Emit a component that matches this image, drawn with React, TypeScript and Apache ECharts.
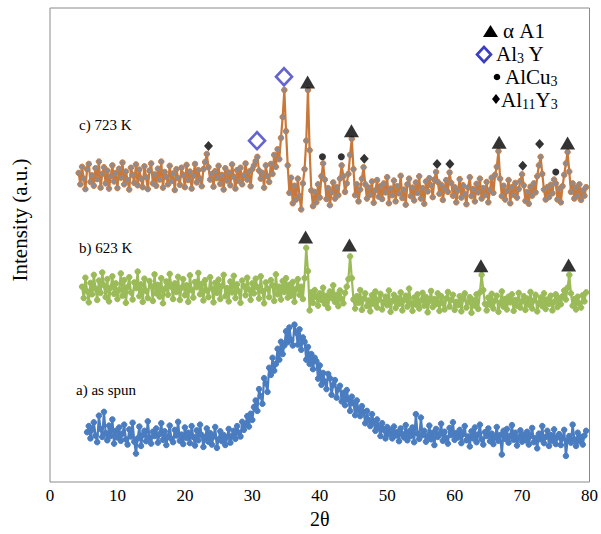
import React, { useEffect, useRef } from 'react';
import * as echarts from 'echarts';

// sampling step of the scans (2θ, degrees)
const STEP = 0.25;

// a) as spun — starts at 2θ = 5.5
const asSpunStart = 5.5;
const asSpun = [
  105, 118, 92, 110, 126, 98, 84, 140, 112, 95, 148, 103, 88, 119, 97, 132, 81, 108, 94, 115,
  87, 102, 121, 90, 79, 111, 96, 125, 85, 60, 92, 117, 76, 99, 108, 86, 128, 94, 81, 106,
  97, 113, 83, 101, 124, 89, 107, 78, 96, 119, 91, 84, 110, 98, 127, 87, 100, 80, 115, 93,
  104, 82, 118, 95, 77, 109, 88, 121, 99, 74, 92, 113, 85, 103, 79, 96, 116, 72, 90, 107,
  86, 99, 78, 94, 112, 83, 97, 108, 91, 118, 104, 96, 127, 110, 122, 139, 117, 144, 131, 158,
  172, 150, 196, 181, 165, 219, 208, 190, 241, 226, 262, 235, 249, 281, 258, 296, 270, 288, 318, 295,
  326, 300, 288, 332, 315, 290, 322, 279, 305, 296, 258, 285, 249, 270, 238, 262, 255, 218, 246, 205,
  230, 212, 196, 228, 219, 184, 205, 215, 178, 196, 203, 170, 188, 162, 194, 174, 150, 180, 166, 141,
  172, 151, 139, 160, 148, 124, 150, 131, 118, 143, 126, 108, 132, 115, 97, 124, 110, 92, 116, 101,
  110, 92, 117, 98, 105, 86, 113, 101, 94, 120, 88, 107, 97, 115, 84, 143, 102, 91, 136, 99,
  108, 85, 97, 119, 90, 104, 78, 112, 95, 101, 123, 87, 106, 93, 81, 114, 99, 126, 89, 103,
  94, 110, 82, 101, 118, 88, 96, 75, 107, 92, 115, 84, 100, 121, 90, 79, 105, 97, 113, 86,
  102, 80, 95, 116, 87, 99, 58, 108, 91, 112, 83, 97, 120, 89, 104, 77, 94, 109, 85, 100,
  88, 106, 79, 97, 114, 84, 93, 71, 102, 90, 118, 82, 95, 108, 76, 99, 87, 111, 80, 94,
  101, 78, 92, 110, 55, 88, 97, 83, 121, 90, 76, 104, 86, 95, 79, 98, 108,
];

// b) 623 K — starts at 2θ = 4.75
const k623Start = 4.75;
const k623 = [
  412, 388, 431, 402, 379, 420, 396, 437, 408, 384, 425, 399, 442, 415, 390, 428, 381, 410, 434, 397,
  419, 386, 405, 440, 393, 426, 378, 411, 432, 400, 385, 421, 409, 444, 392, 417, 380, 429, 403, 388,
  424, 413, 382, 438, 398, 416, 391, 430, 377, 407, 423, 395, 439, 412, 386, 419, 401, 433, 384, 410,
  428, 394, 415, 380, 436, 405, 389, 422, 411, 441, 396, 418, 383, 426, 404, 390, 432, 408, 379, 420,
  399, 427, 386, 414, 437, 392, 409, 381, 423, 400, 435, 388, 417, 402, 378, 425, 413, 394, 431, 406,
  384, 419, 398, 429, 411, 387, 434, 403, 377, 421, 408, 390, 426, 415, 382, 438, 396, 412, 385, 424,
  401, 430, 389, 416, 393, 422, 380, 407, 428, 395, 412, 386, 430, 494, 445, 362, 400, 378, 405, 390,
  372, 398, 384, 410, 376, 393, 367, 402, 388, 415, 380, 395, 371, 404, 386, 377, 399, 412, 428, 476,
  430, 385, 366, 392, 378, 405, 363, 387, 398, 371, 383, 360, 394, 376, 402, 368, 385, 397, 364, 380,
  391, 373, 404, 359, 382, 395, 367, 388, 376, 400, 362, 384, 393, 370, 408, 378, 361, 389, 374, 396,
  366, 383, 399, 372, 390, 358, 381, 403, 369, 386, 375, 398, 361, 392, 377, 364, 387, 401, 370, 384,
  395, 363, 380, 373, 392, 360, 386, 398, 368, 379, 390, 357, 384, 372, 396, 365, 400, 437, 405, 376,
  362, 389, 374, 397, 366, 383, 393, 359, 378, 402, 370, 386, 364, 391, 379, 396, 361, 384, 372, 399,
  368, 381, 392, 363, 387, 374, 401, 366, 383, 395, 360, 378, 389, 371, 398, 365, 385, 376, 393, 362,
  380, 396, 369, 388, 375, 392, 404, 385, 410, 437, 398, 372, 386, 364, 391, 377, 368, 394, 381, 400,
];

// c) 723 K — starts at 2θ = 4.25
const k723Start = 4.25;
const k723 = [
  652, 628, 665, 640, 618, 660, 671, 633, 647, 625, 662, 639, 676, 621, 650, 664, 630, 657, 619, 645,
  668, 634, 652, 620, 661, 642, 674, 628, 655, 637, 617, 663, 648, 631, 670, 626, 659, 640, 622, 666,
  643, 618, 657, 672, 630, 649, 625, 661, 638, 676, 621, 654, 644, 628, 667, 635, 651, 616, 660, 641,
  627, 663, 648, 622, 669, 637, 655, 619, 646, 671, 632, 658, 640, 624, 660, 675, 692, 664, 638, 650,
  623, 656, 641, 667, 629, 648, 617, 662, 636, 653, 626, 670, 644, 619, 658, 635, 663, 628, 647, 672,
  638, 655, 624, 660, 668, 677, 686, 657, 640, 652, 621, 668, 645, 633, 671, 650, 690, 665, 702, 681,
  726, 770, 827, 740, 668, 610, 642, 588, 625, 596, 640, 603, 575, 630, 660, 720, 827, 700, 615, 582,
  612, 590, 628, 600, 645, 672, 638, 597, 620, 584, 611, 632, 598, 622, 605, 640, 668, 645, 612, 630,
  650, 690, 724, 660, 605, 628, 592, 617, 640, 664, 628, 598, 621, 606, 634, 589, 615, 637, 602, 624,
  597, 630, 611, 643, 588, 619, 605, 636, 592, 624, 609, 646, 599, 617, 585, 628, 640, 603, 621, 594,
  632, 610, 645, 598, 620, 587, 634, 613, 641, 626, 601, 638, 654, 633, 608, 627, 595, 619, 637, 612,
  653, 631, 604, 622, 590, 615, 639, 600, 626, 608, 586, 621, 643, 603, 618, 592, 629, 611, 640, 598,
  620, 605, 633, 590, 616, 642, 610, 648, 665, 698, 640, 603, 625, 596, 614, 637, 588, 622, 606, 631,
  600, 618, 635, 649, 626, 593, 612, 587, 623, 604, 630, 611, 645, 668, 686, 650, 617, 596, 622, 601,
  627, 609, 638, 630, 596, 619, 590, 624, 648, 672, 696, 655, 612, 630, 598, 621, 603, 628, 595, 615,
  604, 622,
];

// phase markers [2θ, intensity]
const alphaAl = [[38.2, 844], [44.7, 741], [66.6, 717], [76.75, 715], [37.9, 517], [44.4, 500], [63.9, 456], [76.9, 458]];
const al3Y = [[34.7, 855], [30.7, 720]];
const alCu3 = [[40.4, 686], [43.2, 686], [75.0, 654]];
const al11Y3 = [[23.5, 709], [46.6, 682], [57.4, 671], [59.3, 671], [70.1, 667], [72.6, 713]];

const xTicks = [0, 10, 20, 30, 40, 50, 60, 70, 80];
const sampleLabels = ['c) 723 K', 'b) 623 K', 'a) as spun'];
const legendNames = ['α A1', 'Al3 Y', 'AlCu3', 'Al11Y3'];

const serif = "'Liberation Serif', 'Times New Roman', serif";

export default function App() {
  const ref = useRef<HTMLDivElement>(null);
  useEffect(() => {
    const chart = echarts.init(ref.current!, null, { renderer: 'svg' });
    const mk = (start: number, arr: number[]) => arr.map((v, i) => [start + i * STEP, v]);
    const scan = (name: string, data: number[][], line: string, fill: string, border: string) => ({
      type: 'line',
      name,
      data,
      symbol: 'circle',
      symbolSize: 5.5,
      showSymbol: true,
      showAllSymbol: true,
      silent: true,
      lineStyle: { color: line, width: 2.2 },
      itemStyle: { color: fill, borderColor: border, borderWidth: 1 },
      z: 2,
    });
    const marks = (name: string, data: number[][], symbol: string, size: any, style: any) => ({
      type: 'scatter',
      name,
      data,
      symbol,
      symbolSize: size,
      itemStyle: style,
      silent: true,
      z: 5,
    });
    const rich = {
      n: { fontSize: 21, fontFamily: serif, fill: '#000', lineHeight: 22 },
      s: { fontSize: 14, fontFamily: serif, fill: '#000', lineHeight: 12, verticalAlign: 'bottom' },
    };
    const option: any = {
      animation: false,
      backgroundColor: '#fff',
      grid: { left: 50, right: 9, top: 8, bottom: 52, show: true, borderColor: '#8a8a8a', borderWidth: 1, containLabel: false },
      xAxis: {
        type: 'value',
        min: xTicks[0],
        max: xTicks[xTicks.length - 1],
        interval: 10,
        name: '2θ',
        nameLocation: 'middle',
        nameGap: 27,
        nameTextStyle: { fontFamily: serif, fontSize: 20, color: '#000' },
        axisLine: { show: false },
        axisTick: { show: false },
        splitLine: { show: false },
        axisLabel: { fontFamily: serif, fontSize: 17, color: '#000', margin: 5 },
      },
      yAxis: { type: 'value', min: 0, max: 1000, show: false },
      series: [
        scan('a) as spun', mk(asSpunStart, asSpun), '#4a7cc0', '#4a7cc0', '#4a7cc0'),
        scan('b) 623 K', mk(k623Start, k623), '#9bbb59', '#9bbb59', '#9bbb59'),
        scan('c) 723 K', mk(k723Start, k723), '#c8783a', '#8f8a8e', '#c97d3f'),
        marks(legendNames[0], alphaAl, 'triangle', [15, 13], { color: '#000' }),
        marks(legendNames[1], al3Y, 'diamond', [16, 17], { color: 'rgba(255,255,255,0)', borderColor: '#3d3dc2', borderWidth: 2.6 }),
        marks(legendNames[2], alCu3, 'circle', 7, { color: '#000' }),
        marks(legendNames[3], al11Y3, 'diamond', [9, 10], { color: '#000' }),
      ],
      graphic: [
        { type: 'text', x: 20, y: 220, rotation: Math.PI / 2, style: { text: 'Intensity (a.u.)', fontFamily: serif, fontSize: 21, fill: '#000', align: 'center', verticalAlign: 'middle' } },
        { type: 'text', x: 79, y: 125, style: { text: sampleLabels[0], fontFamily: serif, fontSize: 15, fill: '#000', align: 'left', verticalAlign: 'middle' } },
        { type: 'text', x: 79, y: 248, style: { text: sampleLabels[1], fontFamily: serif, fontSize: 15, fill: '#000', align: 'left', verticalAlign: 'middle' } },
        { type: 'text', x: 76, y: 390, style: { text: sampleLabels[2], fontFamily: serif, fontSize: 15, fill: '#000', align: 'left', verticalAlign: 'middle' } },
        // legend
        { type: 'polygon', shape: { points: [[483, 37], [498, 37], [490.5, 25]] }, style: { fill: '#000' } },
        { type: 'text', x: 503, y: 31, style: { text: '{n|α A1}', rich, align: 'left', verticalAlign: 'middle' } },
        { type: 'polygon', shape: { points: [[484, 47], [491, 54.5], [484, 62], [477, 54.5]] }, style: { fill: 'none', stroke: '#3d3dc2', lineWidth: 2.6 } },
        { type: 'text', x: 496, y: 54, style: { text: '{n|Al}{s|3}{n| Y}', rich, align: 'left', verticalAlign: 'middle' } },
        { type: 'circle', shape: { cx: 497, cy: 77, r: 3.3 }, style: { fill: '#000' } },
        { type: 'text', x: 505, y: 77, style: { text: '{n|AlCu}{s|3}', rich, align: 'left', verticalAlign: 'middle' } },
        { type: 'polygon', shape: { points: [[496, 94], [500, 99], [496, 104], [492, 99]] }, style: { fill: '#000' } },
        { type: 'text', x: 501, y: 100, style: { text: '{n|Al}{s|11}{n|Y}{s|3}', rich, align: 'left', verticalAlign: 'middle' } },
      ],
    };
    chart.setOption(option);
    return () => chart.dispose();
  }, []);
  return <div ref={ref} style={{ position: 'absolute', left: 0, top: 0, width: 601, height: 534 }} />;
}
